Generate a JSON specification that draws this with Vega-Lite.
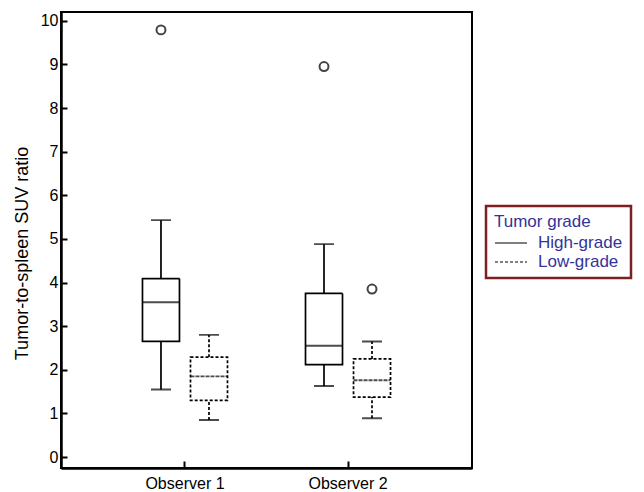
{
  "$schema": "https://vega.github.io/schema/vega-lite/v6.json",
  "autosize": {"type": "none"},
  "width": 411,
  "height": 456,
  "padding": {"left": 61, "top": 12, "right": 172, "bottom": 24},
  "background": "white",
  "config": {
    "font": "Liberation Sans",
    "view": {"stroke": "black", "strokeWidth": 2},
    "axis": {"grid": false, "domainColor": "black", "domainWidth": 2.5, "tickColor": "black", "tickWidth": 2, "labelColor": "black", "labelFont": "Liberation Sans", "labelFontSize": 16, "titleFont": "Liberation Sans", "titleColor": "black", "titleFontWeight": "normal"}
  },
  "datasets": {
    "boxes": [
      {"observer": "Observer 1", "grade": "High-grade", "lo": 1.55, "q1": 2.65, "med": 3.55, "q3": 4.09, "hi": 5.43},
      {"observer": "Observer 1", "grade": "Low-grade", "lo": 0.85, "q1": 1.30, "med": 1.85, "q3": 2.29, "hi": 2.80},
      {"observer": "Observer 2", "grade": "High-grade", "lo": 1.63, "q1": 2.12, "med": 2.55, "q3": 3.75, "hi": 4.88},
      {"observer": "Observer 2", "grade": "Low-grade", "lo": 0.89, "q1": 1.375, "med": 1.76, "q3": 2.25, "hi": 2.65}
    ],
    "outliers": [
      {"observer": "Observer 1", "grade": "High-grade", "value": 9.79},
      {"observer": "Observer 2", "grade": "High-grade", "value": 8.95},
      {"observer": "Observer 2", "grade": "Low-grade", "value": 3.85}
    ]
  },
  "encoding": {
    "x": {
      "field": "observer", "type": "nominal", "title": null,
      "scale": {"domain": ["Observer 1", "Observer 2"], "paddingInner": 0.411, "paddingOuter": 0.466},
      "axis": {"labelAngle": 0, "tickSize": -7, "labelPadding": 14}
    },
    "xOffset": {
      "field": "grade", "type": "nominal",
      "scale": {"domain": ["High-grade", "Low-grade"], "paddingInner": 0, "paddingOuter": 0}
    }
  },
  "layer": [
    {
      "data": {"name": "boxes"},
      "mark": {"type": "rule", "color": "black", "strokeWidth": 1.7},
      "encoding": {
        "y": {
          "field": "lo", "type": "quantitative",
          "scale": {"domain": [-0.25, 10.2], "nice": false, "zero": false},
          "axis": {
            "values": [0, 0.5, 1, 1.5, 2, 2.5, 3, 3.5, 4, 4.5, 5, 5.5, 6, 6.5, 7, 7.5, 8, 8.5, 9, 9.5, 10],
            "labelExpr": "datum.value % 1 === 0 ? datum.label : ''",
            "tickSize": -6,
            "labelPadding": 9,
            "title": "Tumor-to-spleen SUV ratio",
            "titleFontSize": 18,
            "titleAngle": 270,
            "titleX": -39,
            "titleY": 241,
            "titleAlign": "center",
            "titleBaseline": "middle"
          }
        },
        "y2": {"field": "q1"},
        "strokeDash": {
          "field": "grade", "type": "nominal",
          "scale": {"domain": ["High-grade", "Low-grade"], "range": [[1, 0], [3, 2]]},
          "legend": {
            "title": "Tumor grade",
            "orient": "none",
            "legendX": 425,
            "legendY": 194,
            "symbolType": "M-1.6,0H1.6",
            "symbolSize": 400,
            "symbolOffset": 6,
            "symbolStrokeColor": "black",
            "symbolStrokeWidth": 1.2,
            "titleColor": "#33339a",
            "labelColor": "#33339a",
            "titleFont": "Liberation Sans",
            "labelFont": "Liberation Sans",
            "titleFontSize": 17,
            "labelFontSize": 17,
            "titleFontWeight": "normal",
            "titlePadding": 1,
            "rowPadding": 0,
            "labelOffset": 16,
            "labelExpr": "datum.label + '\u00a0\u00a0\u00a0'",
            "padding": 8,
            "strokeColor": "#7b1f22",
            "fillColor": "white",
            "encode": {"legend": {"update": {"strokeWidth": {"value": 2.5}}}}
          }
        }
      }
    },
    {
      "data": {"name": "boxes"},
      "mark": {"type": "rule", "color": "black", "strokeWidth": 1.7},
      "encoding": {
        "y": {"field": "q3", "type": "quantitative"},
        "y2": {"field": "hi"},
        "strokeDash": {"field": "grade", "type": "nominal"}
      }
    },
    {
      "data": {"name": "boxes"},
      "mark": {"type": "bar", "size": 37, "fill": "white", "stroke": "black", "strokeWidth": 1.7},
      "encoding": {
        "y": {"field": "q1", "type": "quantitative"},
        "y2": {"field": "q3"},
        "strokeDash": {"field": "grade", "type": "nominal"}
      }
    },
    {
      "data": {"name": "boxes"},
      "mark": {"type": "tick", "size": 37, "thickness": 0, "filled": false, "stroke": "black", "strokeWidth": 1.9},
      "encoding": {
        "y": {"field": "med", "type": "quantitative"},
        "strokeDash": {"field": "grade", "type": "nominal"}
      }
    },
    {
      "data": {"name": "boxes"},
      "mark": {"type": "tick", "size": 20, "thickness": 0, "filled": false, "stroke": "black", "strokeWidth": 1.9},
      "encoding": {
        "y": {"field": "lo", "type": "quantitative"},
        "strokeDash": {"field": "grade", "type": "nominal"}
      }
    },
    {
      "data": {"name": "boxes"},
      "mark": {"type": "tick", "size": 20, "thickness": 0, "filled": false, "stroke": "black", "strokeWidth": 1.9},
      "encoding": {
        "y": {"field": "hi", "type": "quantitative"},
        "strokeDash": {"field": "grade", "type": "nominal"}
      }
    },
    {
      "data": {"name": "outliers"},
      "mark": {"type": "point", "shape": "circle", "filled": false, "stroke": "#444444", "strokeWidth": 2, "size": 80, "opacity": 1},
      "encoding": {
        "y": {"field": "value", "type": "quantitative"}
      }
    }
  ]
}
